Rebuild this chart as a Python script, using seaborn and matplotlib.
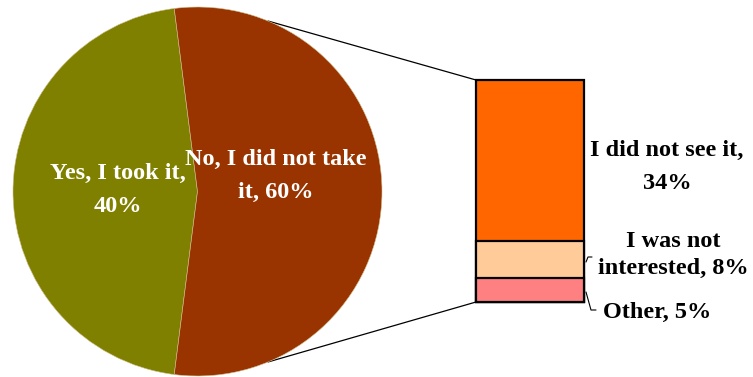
import matplotlib
matplotlib.use("Agg")
import matplotlib.pyplot as plt
from matplotlib.patches import ConnectionPatch
import numpy as np
import seaborn as sns

# ---- data ----
pie_labels = ["Yes, I took it,\n40%", "No, I did not take\nit, 60%"]
yes_value = 40
bar_categories = ["Other, 5%", "I was not\ninterested, 8%", "I did not see it,\n34%"]
bar_values = [5, 8, 34]
pie_values = [yes_value, sum(bar_values)]

pie_colors = ["#808000", "#993300"]
bar_colors = ["#FF8080", "#FFCC99", "#FF6600"]

sns.set_theme(style="white")
plt.rcParams["font.family"] = ["Liberation Serif", "DejaVu Serif"]

W, H = 753, 377
fig = plt.figure(figsize=(W / 100, H / 100), dpi=100)

def px_axes(x0, y0, x1, y1):
    # pixel box (top-left origin) -> figure axes
    return fig.add_axes([x0 / W, (H - y1) / H, (x1 - x0) / W, (y1 - y0) / H])

# ---- pie ----
cx, cy, r = 197.5, 191.5, 184.5
axp = px_axes(cx - r, cy - r, cx + r, cy + r)
yes_deg = 360 * pie_values[0] / sum(pie_values)
axp.pie(pie_values, colors=pie_colors, startangle=180 - yes_deg / 2,
        counterclock=True, radius=1,
        wedgeprops=dict(linewidth=0.4, edgecolor="#d0c090"))
axp.set_xlim(-1, 1)
axp.set_ylim(-1, 1)
axp.set_aspect("auto")
axp.axis("off")
axp.set_zorder(2)

# ---- bar (stacked, drawn as cumulative overlapping bars) ----
axb = px_axes(476, 80, 584, 302)
cum = []
s = 0
for v in bar_values:
    s += v
    cum.append(s)
for total, col in zip(reversed(cum), reversed(bar_colors)):
    sns.barplot(x=["bar"], y=[total], color=col, width=1.0, edgecolor="black",
                linewidth=1.6, saturation=1, ax=axb)
for p in axb.patches:
    p.set_clip_on(False)
axb.set_xlim(-0.5, 0.5)
axb.set_ylim(0, sum(bar_values))
axb.axis("off")

# ---- connector lines ----
ang = np.deg2rad(67.5)
for sign, ybar in [(1, sum(bar_values)), (-1, 0)]:
    con = ConnectionPatch(xyA=(np.cos(ang), sign * np.sin(ang)), coordsA=axp.transData,
                          xyB=(-0.5, ybar), coordsB=axb.transData,
                          color="black", linewidth=0.9)
    con.set_zorder(1)
    fig.add_artist(con)

# ---- labels ----
fs = 17.5
def ftext(x, y, s, color, ls=1.7):
    fig.text(x / W, 1 - y / H, s, ha="center", va="center", color=color,
             fontsize=fs, fontweight="bold", linespacing=ls, zorder=5)

ftext(118, 190, pie_labels[0], "white")
ftext(276, 176, pie_labels[1], "white")
ftext(667, 167, bar_categories[2], "black")
ftext(673, 255, bar_categories[1], "black", ls=1.4)
ftext(657, 312, bar_categories[0], "black")

# leader lines
for xs, ys in [([586, 588, 592], [262, 257, 257]), ([586, 591, 596], [292, 310, 310])]:
    fig.add_artist(plt.Line2D([x / W for x in xs], [1 - y / H for y in ys],
                              color="black", linewidth=0.8))

fig.savefig("out.png", dpi=100)
